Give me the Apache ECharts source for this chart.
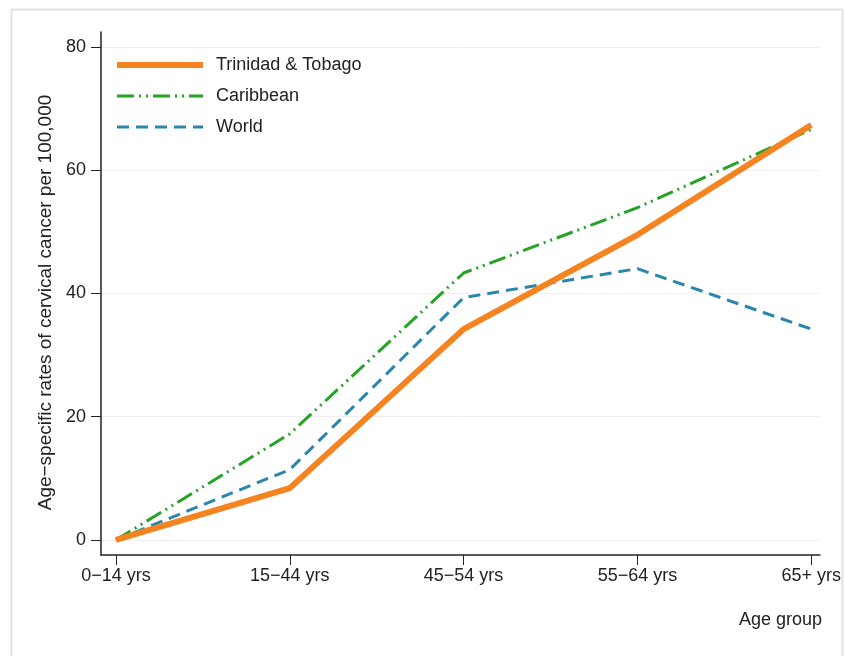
<!DOCTYPE html>
<html>
<head>
<meta charset="utf-8">
<script src="https://cdn.jsdelivr.net/npm/echarts@6/dist/echarts.min.js"></script>
<style>html,body{margin:0;padding:0;background:#fff}#c{width:844px;height:656px}</style>
</head>
<body>
<div id="c"></div>
<script>
const categories = ['0\u221214 yrs', '15\u221244 yrs', '45\u221254 yrs', '55\u221264 yrs', '65+ yrs'];
const trinidad = [0, 8.4, 34.2, 49.5, 67.3];
const caribbean = [0, 17.2, 43.3, 53.9, 66.6];
const world = [0, 11.4, 39.3, 44.0, 34.2];
const yTicks = [0, 20, 40, 60, 80];
const xTicks = [0, 1, 2, 3, 4];

const font = 'Liberation Sans, Arial, sans-serif';
const toPts = arr => arr.map((v, i) => [i, v]);

const chart = echarts.init(document.getElementById('c'));
chart.setOption({
  animation: false,
  backgroundColor: '#fff',
  textStyle: { fontFamily: font },
  graphic: [{
    type: 'rect', left: 9, top: 7, shape: { width: 831, height: 660 },
    style: { fill: 'none', stroke: '#e2e2e2', lineWidth: 2 }, silent: true
  }],
  title: {
    text: 'Age group', right: 17, top: 606,
    textStyle: { fontSize: 18, fontWeight: 'normal', color: '#222', fontFamily: font }
  },
  legend: {
    left: 109, top: 51, orient: 'vertical', itemWidth: 86, itemHeight: 12, itemGap: 13,
    textStyle: { fontSize: 18, color: '#222', fontFamily: font, padding: [0, 0, 0, 8] },
    itemStyle: { opacity: 0 },
    lineStyle: { width: 'inherit' },
    data: ['Trinidad & Tobago', 'Caribbean', 'World']
  },
  grid: { left: 101, right: 18, top: 32, bottom: 101 },
  xAxis: {
    type: 'value', min: -0.086, max: 4.05,
    axisLine: { show: true, onZero: false, lineStyle: { color: '#222', width: 1.5 } },
    axisTick: { show: true, customValues: xTicks, length: 10, lineStyle: { color: '#222' } },
    axisLabel: {
      customValues: xTicks, fontSize: 18, color: '#222', margin: 12,
      formatter: v => categories[Math.round(v)]
    },
    splitLine: { show: false }
  },
  yAxis: {
    type: 'value', min: -2.45, max: 82.4,
    name: 'Age\u2212specific rates of cervical cancer per 100,000',
    nameLocation: 'middle', nameGap: 44,
    nameTextStyle: { fontSize: 19, color: '#222', fontFamily: font, padding: [0, 18, 0, 0] },
    axisLine: { show: true, onZero: false, lineStyle: { color: '#222', width: 1.5 } },
    axisTick: { show: true, customValues: yTicks, length: 10, lineStyle: { color: '#222' } },
    axisLabel: { customValues: yTicks, fontSize: 18, color: '#222', margin: 15 },
    splitLine: { show: true, lineStyle: { color: '#eeeeee', width: 1 } }
  },
  series: [
    {
      name: 'World', type: 'line', data: toPts(world), symbol: 'none', z: 3,
      lineStyle: { color: '#2a86ab', width: 3, type: [12, 7] },
      itemStyle: { color: '#2a86ab' }
    },
    {
      name: 'Caribbean', type: 'line', data: toPts(caribbean), symbol: 'none', z: 4,
      lineStyle: { color: '#26a226', width: 3, type: [17, 5, 2, 5, 2, 5] },
      itemStyle: { color: '#26a226' }
    },
    {
      name: 'Trinidad & Tobago', type: 'line', data: toPts(trinidad), symbol: 'none', z: 5,
      lineStyle: { color: '#f5831f', width: 6 },
      itemStyle: { color: '#f5831f' }
    }
  ]
});
</script>
</body>
</html>
